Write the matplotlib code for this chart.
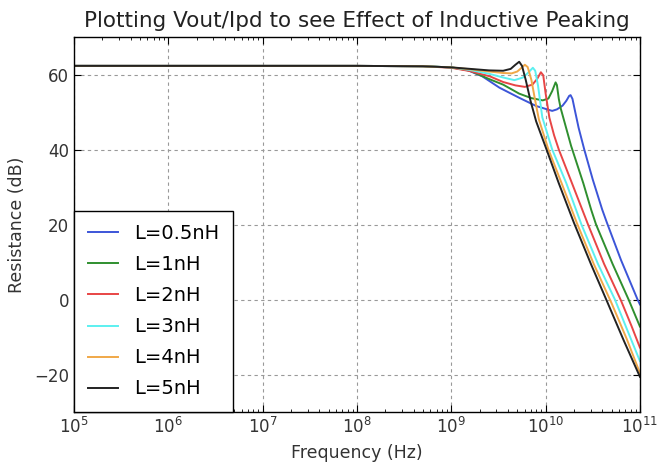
import matplotlib
matplotlib.use("Agg")
import matplotlib.pyplot as plt
import numpy as np

labels = ["L=0.5nH", "L=1nH", "L=2nH", "L=3nH", "L=4nH", "L=5nH"]
colors = ["#3c55d8", "#2f8f2f", "#e84545", "#5cf0f0", "#f0a848", "#222222"]

# log10(frequency in Hz) and magnitude in dB
logf_05 = [5.0, 8.0, 8.7, 9.0, 9.16, 9.33, 9.51, 9.72, 9.90, 10.07, 10.12, 10.18, 10.22, 10.25, 10.265, 10.285, 10.31, 10.35, 10.41, 10.50, 10.60, 10.65, 10.80, 10.975, 11.0]
db_05 = [62.3, 62.3, 62.2, 61.9, 61.3, 59.5, 56.5, 53.8, 51.6, 50.3, 50.7, 51.7, 53.0, 54.3, 54.5, 53.5, 50.5, 45.8, 40.0, 32.0, 24.0, 20.5, 10.5, 0.0, -1.3]

logf_1 = [5.0, 8.0, 8.7, 9.0, 9.2, 9.4, 9.55, 9.72, 9.85, 9.97, 10.03, 10.07, 10.106, 10.12, 10.14, 10.16, 10.27, 10.40, 10.485, 10.535, 10.71, 10.88, 11.0]
db_1 = [62.3, 62.3, 62.2, 61.9, 61.0, 58.8, 57.3, 54.9, 53.7, 53.1, 53.6, 55.6, 57.9, 57.2, 53.5, 51.0, 41.0, 31.0, 23.8, 20.0, 9.5, 0.0, -7.2]

logf_2 = [5.0, 8.0, 8.7, 9.0, 9.2, 9.41, 9.55, 9.68, 9.78, 9.86, 9.91, 9.95, 9.975, 10.0, 10.04, 10.09, 10.14, 10.28, 10.45, 10.62, 10.80, 10.91, 11.0]
db_2 = [62.3, 62.3, 62.2, 61.8, 60.9, 59.5, 58.0, 57.1, 56.7, 57.3, 58.8, 60.6, 59.8, 55.0, 48.5, 43.8, 40.0, 31.0, 20.0, 9.5, -0.3, -7.0, -12.8]

logf_3 = [5.0, 8.0, 8.7, 9.0, 9.2, 9.4, 9.55, 9.67, 9.76, 9.82, 9.865, 9.89, 9.92, 9.965, 10.07, 10.22, 10.325, 10.38, 10.555, 10.735, 10.88, 11.0]
db_3 = [62.3, 62.3, 62.2, 61.9, 61.2, 60.2, 59.2, 58.5, 59.2, 60.6, 61.8, 61.0, 57.0, 48.6, 40.0, 31.0, 23.8, 20.0, 9.5, 0.0, -9.0, -16.4]

logf_4 = [5.0, 8.0, 8.7, 9.0, 9.2, 9.4, 9.55, 9.64, 9.70, 9.75, 9.78, 9.81, 9.85, 9.89, 9.929, 10.03, 10.17, 10.33, 10.51, 10.70, 10.86, 11.0]
db_4 = [62.3, 62.3, 62.2, 61.9, 61.4, 60.8, 60.4, 60.3, 60.8, 61.9, 62.6, 62.0, 58.5, 53.0, 48.0, 40.0, 31.0, 20.5, 9.5, -1.0, -10.5, -19.6]

logf_5 = [5.0, 8.0, 8.7, 9.0, 9.2, 9.4, 9.55, 9.63, 9.68, 9.72, 9.75, 9.79, 9.84, 9.90, 10.01, 10.14, 10.30, 10.48, 10.66, 10.83, 11.0]
db_5 = [62.3, 62.3, 62.2, 61.9, 61.5, 61.1, 61.0, 61.5, 62.6, 63.4, 62.3, 58.5, 53.0, 47.5, 40.0, 31.0, 20.5, 9.5, -1.0, -11.0, -20.6]

series = [(logf_05, db_05), (logf_1, db_1), (logf_2, db_2),
          (logf_3, db_3), (logf_4, db_4), (logf_5, db_5)]

plt.rcParams['font.family'] = ['DejaVu Sans']
plt.rcParams['xtick.direction'] = 'in'
plt.rcParams['ytick.direction'] = 'in'

fig = plt.figure(figsize=(6.57, 4.72), dpi=100)
ax = fig.add_axes([0.1126, 0.127, 0.8614, 0.7946])

for (lf, db), lab, col in zip(series, labels, colors):
    ax.plot(10.0 ** np.array(lf), db, color=col, lw=1.4, label=lab)

ax.set_xscale('log')
ax.set_xlim(1e5, 1e11)
ax.set_ylim(-30, 70)
ax.set_yticks([-20, 0, 20, 40, 60])
ax.grid(True, which='major', color='0.6', linestyle=(0, (3, 3)), lw=0.8)
ax.tick_params(which='both', top=True, right=True, labelsize=12, labelcolor='#333333')
ax.tick_params(which='major', length=5)
ax.tick_params(which='minor', length=2.5)
for s in ax.spines.values():
    s.set_linewidth(1.0)

ax.set_title("Plotting Vout/Ipd to see Effect of Inductive Peaking", fontsize=15.5, color='#222222', pad=7)
ax.set_xlabel("Frequency (Hz)", fontsize=12.5, color='#333333', labelpad=5)
ax.set_ylabel("Resistance (dB)", fontsize=12.5, color='#333333', labelpad=6)

leg = ax.legend(loc='lower left', borderaxespad=0.0, fontsize=14, handlelength=1.55,
                handletextpad=0.85, labelspacing=0.62, fancybox=False, framealpha=1.0,
                borderpad=0.7)
leg.get_frame().set_edgecolor('black')
leg.get_frame().set_linewidth(1.0)

fig.savefig("out.png", dpi=100)
